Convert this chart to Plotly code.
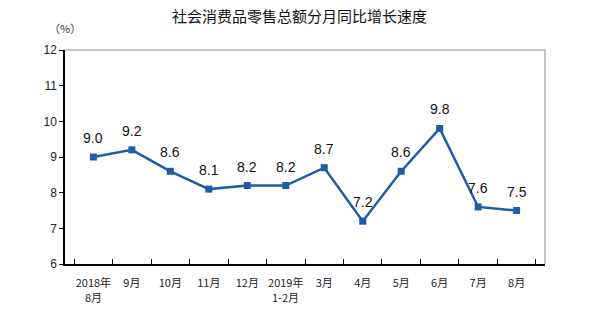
import plotly.graph_objects as go

categories = ["2018年8月", "9月", "10月", "11月", "12月", "2019年1-2月",
              "3月", "4月", "5月", "6月", "7月", "8月"]
tick_line1 = ["2018年", "9月", "10月", "11月", "12月", "2019年",
              "3月", "4月", "5月", "6月", "7月", "8月"]
tick_line2 = ["8月", "", "", "", "", "1-2月", "", "", "", "", "", ""]
values = [9.0, 9.2, 8.6, 8.1, 8.2, 8.2, 8.7, 7.2, 8.6, 9.8, 7.6, 7.5]
labels = [f"{v:.1f}" for v in values]
y_ticks = [6, 7, 8, 9, 10, 11, 12]

color = "#1f5ca6"
fig = go.Figure()
fig.add_trace(go.Scatter(
    x=categories, y=values, mode="lines+markers",
    line=dict(color=color, width=2.5),
    marker=dict(symbol="square", size=7, color=color),
    cliponaxis=False, hoverinfo="skip",
))

tick_font = dict(family="Noto Sans CJK SC", size=11, color="#222")
annotations = [dict(text="（%）", xref="paper", yref="paper", x=0.0, y=1.105,
                    xanchor="center", yanchor="middle", showarrow=False,
                    font=dict(family="Noto Sans CJK SC", size=11, color="#333"))]
for c, v, t in zip(categories, values, labels):
    annotations.append(dict(x=c, y=v, text=t, showarrow=False, yshift=19,
                            xanchor="center", yanchor="middle",
                            font=dict(family="Liberation Sans", size=14, color="#111")))
for c, t in zip(categories, tick_line2):
    if t:
        annotations.append(dict(x=c, xref="x", y=0, yref="paper", text=t,
                                showarrow=False, yshift=-33, xanchor="center",
                                yanchor="middle", font=tick_font))

fig.update_layout(
    width=599, height=316,
    margin=dict(l=65, r=54, t=50, b=52, autoexpand=False),
    paper_bgcolor="white", plot_bgcolor="white",
    showlegend=False,
    title=dict(text="社会消费品零售总额分月同比增长速度", x=0.5, xanchor="center",
               y=1 - 17 / 316, yanchor="middle",
               font=dict(family="Noto Sans CJK SC", size=15, color="#111")),
    annotations=annotations,
    shapes=[
        dict(type="line", xref="paper", yref="paper", x0=0, x1=1, y0=1, y1=1,
             line=dict(color="#888", width=1)),
        dict(type="line", xref="paper", yref="paper", x0=1, x1=1, y0=0, y1=1,
             line=dict(color="#888", width=1)),
    ],
)
fig.update_xaxes(
    type="category", tickson="boundaries", ticks="inside", ticklen=5, tickangle=0,
    tickmode="array", tickvals=categories, ticktext=tick_line1,
    tickcolor="black", showline=True, linecolor="black", linewidth=1.5, automargin=False,
    showgrid=False, ticklabelstandoff=8, tickfont=tick_font,
)
fig.update_yaxes(
    range=[6, 12], tickvals=y_ticks, ticks="outside", ticklen=4, tickcolor="black",
    showline=True, linecolor="black", linewidth=1.5, showgrid=False, zeroline=False,
    tickfont=dict(family="Liberation Sans Narrow, Liberation Sans", size=12, color="#222"),
)

fig.write_html("out.html")
